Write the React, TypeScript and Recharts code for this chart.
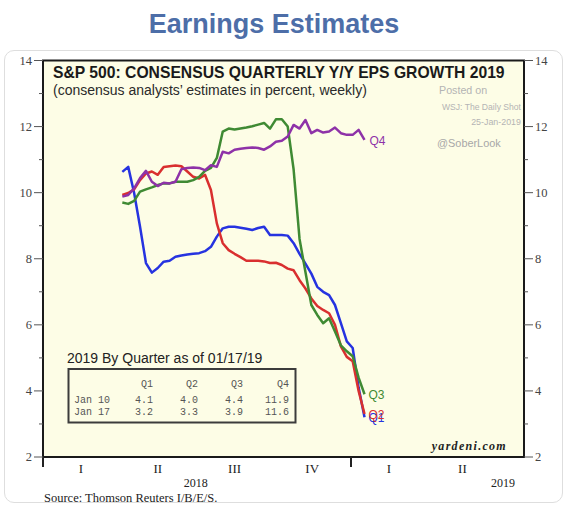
import React from "react";
import { LineChart, Line, XAxis, YAxis, ReferenceArea } from "recharts";

// weekly observation dates, as days since Jan 1 2018 (Thursdays Apr 5 2018 .. Jan 17 2019)
const weekDays = [
  94, 101, 108, 115, 122, 129, 136, 143, 150, 157, 164, 171, 178, 185, 192, 199, 206, 213, 220, 227, 234,
  241, 248, 255, 262, 269, 276, 283, 290, 297, 304, 311, 318, 325, 332, 339, 346, 353, 360, 367, 374, 381,
];

const q1Eps = [
  10.63, 10.78, 9.99, 8.97, 7.87, 7.58, 7.72, 7.91, 7.94, 8.06, 8.1, 8.13, 8.15, 8.17, 8.23, 8.36, 8.67, 8.92,
  8.97, 8.97, 8.94, 8.91, 8.87, 8.93, 8.97, 8.72, 8.72, 8.72, 8.7, 8.47, 8.15, 7.85, 7.55, 7.15, 7.0, 6.9, 6.6,
  6.05, 5.5, 5.3, 4.1, 3.2,
];
const q2Eps = [
  9.93, 9.99, 10.1, 10.38, 10.58, 10.64, 10.54, 10.78, 10.8, 10.82, 10.8, 10.64, 10.48, 10.43, 10.54, 10.08,
  9.07, 8.47, 8.26, 8.15, 8.05, 7.94, 7.94, 7.94, 7.92, 7.87, 7.88, 7.81, 7.7, 7.65, 7.35, 7.1, 6.8, 6.57, 6.45,
  6.35, 6.0, 5.35, 5.03, 4.9, 4.0, 3.3,
];
const q3Eps = [
  9.7, 9.66, 9.75, 10.03, 10.1, 10.16, 10.23, 10.28, 10.28, 10.33, 10.33, 10.33, 10.38, 10.48, 10.66, 10.75,
  11.05, 11.85, 11.94, 11.91, 11.94, 11.97, 12.01, 12.06, 12.11, 11.94, 12.22, 12.22, 12.0, 10.7, 8.6, 7.6, 6.6,
  6.3, 6.05, 6.2, 5.8, 5.38, 5.2, 5.05, 4.4, 3.9,
];
const q4Eps = [
  9.88, 9.93, 10.13, 10.44, 10.66, 10.33, 10.2, 10.3, 10.28, 10.33, 10.71, 10.75, 10.76, 10.75, 10.68, 10.83,
  10.78, 11.24, 11.19, 11.3, 11.33, 11.35, 11.37, 11.35, 11.3, 11.4, 11.54, 11.57, 11.7, 12.05, 11.94, 12.2,
  11.8, 11.9, 11.82, 11.85, 11.97, 11.8, 11.75, 11.75, 11.9, 11.6,
];

// x axis: quarter labels, year labels, year boundaries (days since Jan 1 2018)
const quarterDays = [45, 136, 227, 319, 410, 497];
const quarterLabels = ["I", "II", "III", "IV", "I", "II"];
const yearDays = [181, 545];
const yearLabels = ["2018", "2019"];
const yearBoundaryDays = [0, 365];

const yTicks = [2, 3, 4, 5, 6, 7, 8, 9, 10, 11, 12, 13, 14];

// inset table
const tableHeaders = ["Q1", "Q2", "Q3", "Q4"];
const tableDates = ["Jan 10", "Jan 17"];
const tableQ1 = [4.1, 3.2];
const tableQ2 = [4.0, 3.3];
const tableQ3 = [4.4, 3.9];
const tableQ4 = [11.9, 11.6];

const rows = weekDays.map((day, i) => ({ day, q1: q1Eps[i], q2: q2Eps[i], q3: q3Eps[i], q4: q4Eps[i] }));

const SANS = "'Liberation Sans', Arial, sans-serif";
const SERIF = "'Liberation Serif', 'Times New Roman', serif";
const MONO = "'Liberation Mono', 'Courier New', monospace";

const LeftTick = (p: any) => {
  const v = p.payload.value;
  const major = v % 2 === 0;
  return (
    <g>
      <line x1={p.x - (major ? 9 : 4)} x2={p.x} y1={p.y} y2={p.y} stroke="#555" strokeWidth={1} />
      {major && (
        <text x={p.x - 11} y={p.y + 4} textAnchor="end" fontFamily={SERIF} fontSize={12.5} fill="#444">
          {v}
        </text>
      )}
    </g>
  );
};

const RightTick = (p: any) => {
  const v = p.payload.value;
  const major = v % 2 === 0;
  return (
    <g>
      <line x1={p.x} x2={p.x + (major ? 9 : 4)} y1={p.y} y2={p.y} stroke="#555" strokeWidth={1} />
      {major && (
        <text x={p.x + 11} y={p.y + 4} textAnchor="start" fontFamily={SERIF} fontSize={12.5} fill="#444">
          {v}
        </text>
      )}
    </g>
  );
};

const BottomTick = (p: any) => {
  const v = p.payload.value;
  if (yearBoundaryDays.includes(v)) {
    return <line x1={p.x} x2={p.x} y1={p.y} y2={p.y + 10} stroke="#222" strokeWidth={2} />;
  }
  const qi = quarterDays.indexOf(v);
  if (qi >= 0) {
    return (
      <text x={p.x} y={p.y + 16} textAnchor="middle" fontFamily={SERIF} fontSize={13} fill="#222">
        {quarterLabels[qi]}
      </text>
    );
  }
  const yi = yearDays.indexOf(v);
  return (
    <text x={p.x} y={p.y + 30} textAnchor="middle" fontFamily={SERIF} fontSize={12} fill="#222">
      {yearLabels[yi]}
    </text>
  );
};

const endLabel = (text: string, color: string, dx: number, dy: number) => (p: any) => {
  if (p.index !== weekDays.length - 1) return null;
  return (
    <text x={p.x + dx} y={p.y + dy} fill={color} fontFamily={SANS} fontSize={12}>
      {text}
    </text>
  );
};

const series = [
  { key: "q1", label: "Q1", color: "#2633e0", dx: 4, dy: 4.5 },
  { key: "q2", label: "Q2", color: "#d92f2f", dx: 4, dy: 5 },
  { key: "q3", label: "Q3", color: "#3f8a33", dx: 4, dy: 5 },
  { key: "q4", label: "Q4", color: "#8e32a8", dx: 5, dy: 5.5 },
];

const xTicks = [...yearBoundaryDays, ...quarterDays, ...yearDays].sort((a, b) => a - b);
const colRight = [153, 198, 243, 289];
const tableCols = [tableQ1, tableQ2, tableQ3, tableQ4];

export default function App() {
  return (
    <div style={{ position: "absolute", left: 0, top: 0, width: 569, height: 508, background: "#fff", overflow: "hidden" }}>
      <div
        style={{
          position: "absolute",
          left: 4,
          top: 50,
          width: 559,
          height: 453,
          border: "1px solid #dedede",
          borderRadius: 10,
          boxSizing: "border-box",
        }}
      />
      <div style={{ position: "absolute", left: 0, top: 0 }}>
        <LineChart width={569} height={508} data={rows} margin={{ top: 60.5, right: 10, bottom: 11, left: 13 }}>
          <XAxis
            dataKey="day"
            type="number"
            domain={[0, 570]}
            ticks={xTicks}
            interval={0}
            tick={BottomTick}
            tickLine={false}
            axisLine={false}
            tickSize={0}
            tickMargin={0}
            height={40}
            allowDataOverflow
          />
          <YAxis
            yAxisId="left"
            domain={[2, 14]}
            ticks={yTicks}
            interval={0}
            tick={LeftTick}
            tickLine={false}
            axisLine={false}
            tickSize={0}
            tickMargin={0}
            width={30}
            allowDataOverflow
          />
          <YAxis
            yAxisId="right"
            orientation="right"
            domain={[2, 14]}
            ticks={yTicks}
            interval={0}
            tick={RightTick}
            tickLine={false}
            axisLine={false}
            tickSize={0}
            tickMargin={0}
            width={35}
            allowDataOverflow
          />
          <ReferenceArea
            yAxisId="left"
            x1={0}
            x2={570}
            y1={2}
            y2={14}
            fill="#fdfde6"
            fillOpacity={1}
            stroke="#1a1a1a"
            strokeWidth={2}
          />
          {series.map((s) => (
            <Line
              key={s.key}
              yAxisId="left"
              type="linear"
              dataKey={s.key}
              stroke={s.color}
              strokeWidth={2.5}
              strokeLinejoin="round"
              dot={false}
              activeDot={false}
              isAnimationActive={false}
              label={endLabel(s.label, s.color, s.dx, s.dy)}
            />
          ))}
        </LineChart>
      </div>
      <svg width={569} height={508} style={{ position: "absolute", left: 0, top: 0, pointerEvents: "none" }}>
        <text x={274} y={33} textAnchor="middle" fontFamily={SANS} fontWeight="bold" fontSize={27} fill="#4d6ea8">
          Earnings Estimates
        </text>
        <text x={53} y={77.5} fontFamily={SANS} fontWeight="bold" fontSize={15.7} fill="#1a1a1a">
          S&amp;P 500: CONSENSUS QUARTERLY Y/Y EPS GROWTH 2019
        </text>
        <text x={53} y={94.5} fontFamily={SANS} fontSize={14} fill="#2a2a2a">
          (consensus analysts’ estimates in percent, weekly)
        </text>
        <text x={439} y={94} fontFamily={SANS} fontSize={10.7} fill="#b4b4b4">
          Posted on
        </text>
        <text x={521} y={110} textAnchor="end" fontFamily={SANS} fontSize={8.6} fill="#b4b4b4">
          WSJ: The Daily Shot
        </text>
        <text x={521} y={125} textAnchor="end" fontFamily={SANS} fontSize={8.9} fill="#b4b4b4">
          25-Jan-2019
        </text>
        <text x={437} y={146.5} fontFamily={SANS} fontSize={10.9} fill="#a8a8a8">
          @SoberLook
        </text>
        <text x={67} y={363} fontFamily={SANS} fontSize={14} fill="#222">
          2019 By Quarter as of 01/17/19
        </text>
        <rect x={68.5} y={369} width={227} height={53.5} fill="none" stroke="#3c3c3c" strokeWidth={2} />
        {tableHeaders.map((h, c) => (
          <text key={h} x={colRight[c]} y={386.5} textAnchor="end" fontFamily={MONO} fontSize={10} fill="#555">
            {h}
          </text>
        ))}
        {tableDates.map((d, r) => (
          <g key={d}>
            <text x={74} y={402.5 + r * 12} fontFamily={MONO} fontSize={10} fill="#555">
              {d}
            </text>
            {tableCols.map((col, c) => (
              <text key={c} x={colRight[c]} y={402.5 + r * 12} textAnchor="end" fontFamily={MONO} fontSize={10} fill="#555">
                {col[r].toFixed(1)}
              </text>
            ))}
          </g>
        ))}
        <text
          x={507}
          y={450}
          textAnchor="end"
          fontFamily={SERIF}
          fontWeight="bold"
          fontStyle="italic"
          fontSize={12}
          letterSpacing={1.3}
          fill="#222"
        >
          yardeni.com
        </text>
        <text x={44} y={501.5} fontFamily={SERIF} fontSize={12.5} fill="#222">
          Source: Thomson Reuters I/B/E/S.
        </text>
      </svg>
    </div>
  );
}
